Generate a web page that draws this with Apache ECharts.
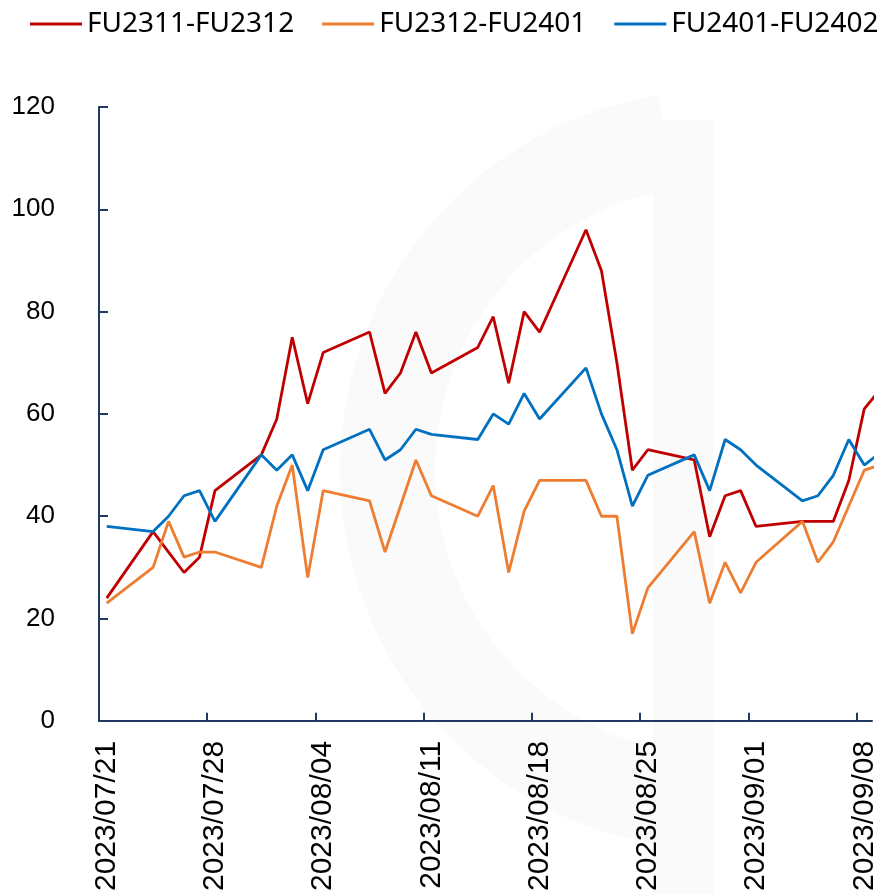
<!DOCTYPE html>
<html>
<head>
<meta charset="utf-8">
<script src="https://cdn.jsdelivr.net/npm/echarts@6/dist/echarts.min.js"></script>
<style>
  html, body { margin: 0; padding: 0; background: #fff; }
  #main { width: 883px; height: 894px; }
</style>
</head>
<body>
<div id="main"></div>
<script>
// 价差走势 - 日期轴按自然日排列，点落在每天的中间

const tradeDates = [
  '2023/07/21', '2023/07/24', '2023/07/25', '2023/07/26', '2023/07/27', '2023/07/28',
  '2023/07/31', '2023/08/01', '2023/08/02', '2023/08/03', '2023/08/04',
  '2023/08/07', '2023/08/08', '2023/08/09', '2023/08/10', '2023/08/11',
  '2023/08/14', '2023/08/15', '2023/08/16', '2023/08/17', '2023/08/18',
  '2023/08/21', '2023/08/22', '2023/08/23', '2023/08/24', '2023/08/25',
  '2023/08/28', '2023/08/29', '2023/08/30', '2023/08/31', '2023/09/01',
  '2023/09/04', '2023/09/05', '2023/09/06', '2023/09/07', '2023/09/08',
  '2023/09/11'
];
const fu2311_2312 = [24, 37, 33, 29, 32, 45, 52, 59, 75, 62, 72, 76, 64, 68, 76, 68, 73, 79, 66, 80, 76,
  96, 88, 70, 49, 53, 51, 36, 44, 45, 38, 39, 39, 39, 47, 61, 72];
const fu2312_2401 = [23, 30, 39, 32, 33, 33, 30, 42, 50, 28, 45, 43, 33, 42, 51, 44, 40, 46, 29, 41, 47,
  47, 40, 40, 17, 26, 37, 23, 31, 25, 31, 39, 31, 35, 42, 49, 52];
const fu2401_2402 = [38, 37, 40, 44, 45, 39, 52, 49, 52, 45, 53, 57, 51, 53, 57, 56, 55, 60, 58, 64, 59,
  69, 60, 53, 42, 48, 52, 45, 55, 53, 50, 43, 44, 48, 55, 50, 57];
const seriesNames = ['FU2311-FU2312', 'FU2312-FU2401', 'FU2401-FU2402'];
const xTickLabels = ['2023/07/21', '2023/07/28', '2023/08/04', '2023/08/11',
  '2023/08/18', '2023/08/25', '2023/09/01', '2023/09/08'];
const axisEnd = '2023/09/09';
const yTicks = [0, 20, 40, 60, 80, 100, 120];

const colors = ['#C00000', '#ED7D31', '#0070C0'];
const axisColor = '#1F3864';

function dayIndex(s) {
  const p = s.split('/').map(Number);
  const p0 = tradeDates[0].split('/').map(Number);
  return Math.round((Date.UTC(p[0], p[1] - 1, p[2]) - Date.UTC(p0[0], p0[1] - 1, p0[2])) / 86400000);
}

const labelByDay = {};
xTickLabels.forEach(s => { labelByDay[dayIndex(s)] = s; });

function toPoints(vals) {
  return vals.map((v, i) => [dayIndex(tradeDates[i]) + 0.5, v]);
}

const chart = echarts.init(document.getElementById('main'));
const option = {
  animation: false,
  color: colors,
  // 背景水印（很淡的灰色圆环）
  graphic: [
    {
      type: 'sector', z: -10, silent: true,
      shape: { cx: 720, cy: 470, r0: 285, r: 380, startAngle: 1.75, endAngle: 4.55 },
      style: { fill: '#fafafa' }
    },
    {
      type: 'rect', z: -10, silent: true,
      shape: { x: 653, y: 120, width: 60, height: 774 },
      style: { fill: '#fafafa' }
    }
  ],
  legend: {
    left: 30,
    top: 10,
    width: 860,
    padding: 0,
    icon: 'rect',
    itemWidth: 52,
    itemHeight: 3,
    itemGap: 28,
    textStyle: { fontFamily: 'Noto Sans', fontSize: 28, color: '#000' },
    data: seriesNames
  },
  grid: { left: 99, right: 11, top: 107, bottom: 172 },
  xAxis: {
    type: 'value',
    min: 0,
    max: dayIndex(axisEnd),
    splitLine: { show: false },
    axisLine: { lineStyle: { color: axisColor, width: 2 } },
    axisTick: {
      inside: true, length: 8,
      customValues: xTickLabels.map(dayIndex),
      lineStyle: { color: axisColor, width: 2 }
    },
    axisLabel: {
      rotate: 90,
      margin: 20,
      fontFamily: 'Liberation Sans',
      fontSize: 30,
      color: '#000',
      customValues: xTickLabels.map(s => dayIndex(s) + 0.5),
      formatter: v => labelByDay[Math.floor(v)] || ''
    }
  },
  yAxis: {
    type: 'value',
    min: yTicks[0],
    max: yTicks[yTicks.length - 1],
    interval: 20,
    splitLine: { show: false },
    axisLine: { show: true, lineStyle: { color: axisColor, width: 2 } },
    axisTick: { show: true, inside: true, length: 9, lineStyle: { color: axisColor, width: 2 } },
    axisLabel: { margin: 44, fontFamily: 'Liberation Sans', fontSize: 26, color: '#000' }
  },
  series: [
    { name: seriesNames[0], type: 'line', data: toPoints(fu2311_2312) },
    { name: seriesNames[1], type: 'line', data: toPoints(fu2312_2401) },
    { name: seriesNames[2], type: 'line', data: toPoints(fu2401_2402) }
  ].map(s => Object.assign(s, { symbol: 'none', lineStyle: { width: 2.8 }, clip: true }))
};
chart.setOption(option);
</script>
</body>
</html>
